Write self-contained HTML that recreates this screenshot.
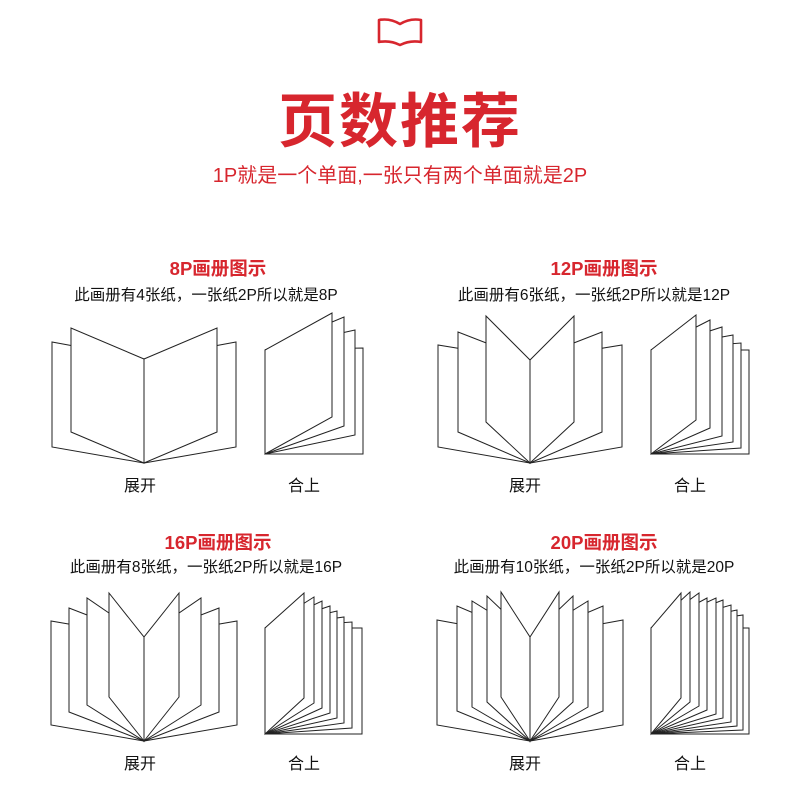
<!DOCTYPE html>
<html><head><meta charset="utf-8"><style>
body{margin:0;background:#fff;width:800px;height:800px;overflow:hidden;position:relative;font-family:"Liberation Sans","Noto Sans CJK SC",sans-serif}
.t{position:absolute;white-space:nowrap;transform:translateX(-50%)}
.h{font-size:18.5px;font-weight:bold;color:#d7262e}
.d{font-size:15.5px;color:#111}
</style></head><body>
<svg id="s" width="800" height="800" style="position:absolute;left:0;top:0">
<path d="M379 20 L379 42 Q390 40 400 45 Q410 40 421 42 L421 20 Q410 18 400 24 Q390 18 379 20 Z" fill="none" stroke="#d7262e" stroke-width="2.6" stroke-linejoin="round"/>
</svg>
<div class="t" style="left:400px;top:74px;font-size:59px;font-weight:bold;color:#d7262e;letter-spacing:2px">页数推荐</div>
<div class="t" style="left:400px;top:159px;font-size:20px;color:#d7262e">1P就是一个单面,一张只有两个单面就是2P</div>

<div class="t h" style="left:218px;top:255px">8P画册图示</div>
<div class="t d" style="left:206px;top:283px">此画册有4张纸，一张纸2P所以就是8P</div>
<div class="t h" style="left:604px;top:255px">12P画册图示</div>
<div class="t d" style="left:594px;top:283px">此画册有6张纸，一张纸2P所以就是12P</div>
<div class="t h" style="left:218px;top:529px">16P画册图示</div>
<div class="t d" style="left:206px;top:555px">此画册有8张纸，一张纸2P所以就是16P</div>
<div class="t h" style="left:604px;top:529px">20P画册图示</div>
<div class="t d" style="left:594px;top:555px">此画册有10张纸，一张纸2P所以就是20P</div>

<div class="t" style="left:140px;top:472px;font-size:16px;color:#111">展开</div>
<div class="t" style="left:304px;top:472px;font-size:16px;color:#111">合上</div>
<div class="t" style="left:525px;top:472px;font-size:16px;color:#111">展开</div>
<div class="t" style="left:690px;top:472px;font-size:16px;color:#111">合上</div>
<div class="t" style="left:140px;top:750px;font-size:16px;color:#111">展开</div>
<div class="t" style="left:304px;top:750px;font-size:16px;color:#111">合上</div>
<div class="t" style="left:525px;top:750px;font-size:16px;color:#111">展开</div>
<div class="t" style="left:690px;top:750px;font-size:16px;color:#111">合上</div>
<script>
var s=document.getElementById('s'),out='';
function poly(p){out+='<polygon points="'+p.map(function(a){return a.join(',')}).join(' ')+'" fill="#fff" stroke="#222" stroke-width="1"/>';}
function open(sx,st,sb,dx,tops,bots){
 for(var i=dx.length-1;i>=0;i--){
  poly([[sx,st],[sx+dx[i],tops[i]],[sx+dx[i],bots[i]],[sx,sb]]);
  poly([[sx,st],[sx-dx[i],tops[i]],[sx-dx[i],bots[i]],[sx,sb]]);
 }
}
function closed(cx,cy,fy,xs,tops,bots){
 for(var i=xs.length-1;i>=0;i--){
  poly([[cx,cy],[cx,fy],[xs[i],tops[i]],[xs[i],bots[i]]]);
 }
}
open(144,359,463,[-73,-92],[328,342],[432,447]);
closed(265,454,350,[332,344,355,363],[313,317,330,348],[417,426,435,454]);
open(530,360,463,[-44,-72,-92],[316,332,345],[422,432,447]);
closed(651,454,350,[696,710,722,733,741,749],[315,320,327,335,343,350],[420,428,436,442,448,454]);
open(144,637,741,[-35,-57,-75,-93],[593,598,608,621],[697,705,712,725]);
closed(265,734,628,[304,314,322,330,337,344,352,362],[593,597,601,606,611,617,622,628],[698,703,708,713,718,723,728,734]);
open(530,637,741,[-29,-43,-58,-73,-93],[592,596,601,606,620],[697,702,707,711,725]);
closed(651,734,628,[681,690,699,707,716,723,731,737,743,749],[593,592,593,598,598,600,605,610,615,628],[698,702,706,710,714,718,722,726,730,734]);
s.insertAdjacentHTML('beforeend',out);
</script>
</body></html>
